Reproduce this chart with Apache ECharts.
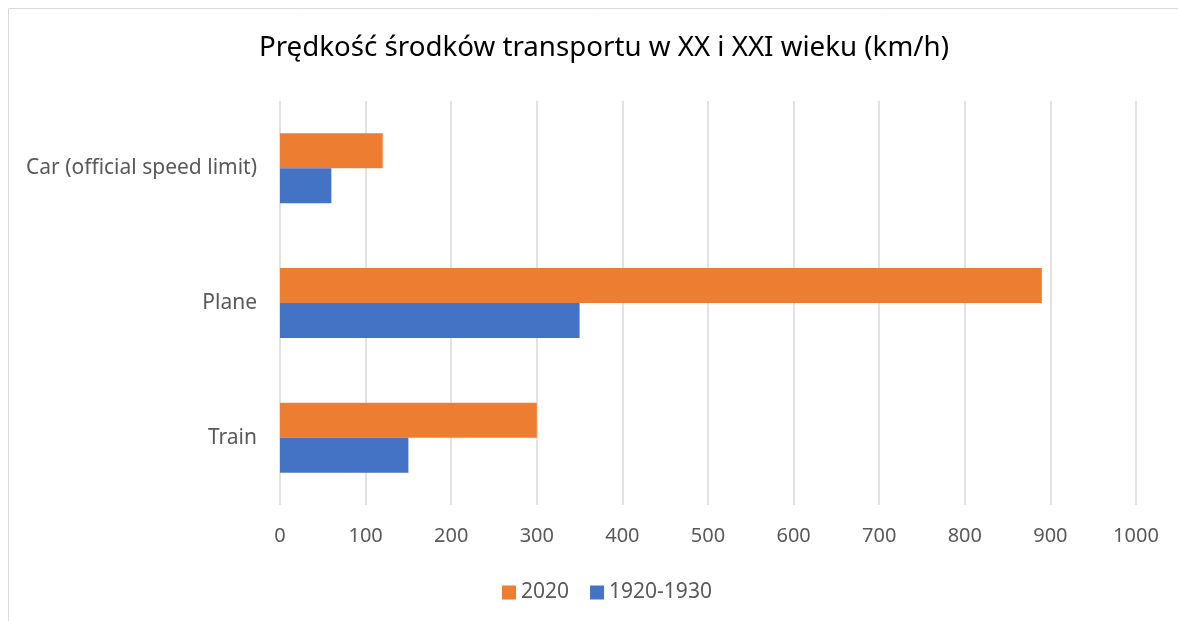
<!DOCTYPE html>
<html>
<head>
<meta charset="utf-8">
<script src="https://cdn.jsdelivr.net/npm/echarts@6/dist/echarts.min.js"></script>
<style>
  html, body { margin: 0; padding: 0; background: #fff; }
  #chart { width: 1178px; height: 621px; }
</style>
</head>
<body>
<div id="chart"></div>
<script>
const categories = ["Train", "Plane", "Car (official speed limit)"];
const speeds1920 = [150, 350, 60];
const speeds2020 = [300, 890, 120];
const seriesNames = ["2020", "1920-1930"];

const chart = echarts.init(document.getElementById("chart"));
const font = "Noto Sans";
chart.setOption({
  animation: false,
  title: {
    text: "Prędkość środków transportu w XX i XXI wieku (km/h)",
    left: 599,
    textAlign: "center",
    top: 29,
    textStyle: { fontFamily: font, fontSize: 27.7, fontWeight: "normal", color: "#000" }
  },
  graphic: [{
    type: "rect",
    shape: { x: 8.5, y: 8.5, width: 1200, height: 700 },
    style: { fill: "none", stroke: "#d9d9d9", lineWidth: 1 },
    silent: true
  }],
  legend: {
    data: seriesNames,
    left: 497,
    top: 577,
    itemWidth: 14,
    itemHeight: 14,
    itemGap: 21,
    icon: "rect",
    textStyle: { fontFamily: font, fontSize: 21, color: "#595959" }
  },
  grid: { left: 280, right: 42, top: 101, bottom: 116 },
  xAxis: {
    type: "value",
    min: 0,
    max: 1000,
    interval: 100,
    axisLine: { show: false },
    axisTick: { show: false },
    axisLabel: { margin: 21, fontFamily: font, fontSize: 20, color: "#595959", formatter: (v) => String(v) },
    splitLine: { lineStyle: { color: "#d9d9d9", width: 1.5 } }
  },
  yAxis: {
    type: "category",
    data: categories,
    axisLine: { show: false },
    axisTick: { show: false },
    axisLabel: { margin: 23, fontFamily: font, fontSize: 21, color: "#595959" }
  },
  series: [
    {
      name: "2020",
      type: "bar",
      data: speeds2020,
      barWidth: 35,
      barGap: "0%",
      itemStyle: { color: "#ED7D31" }
    },
    {
      name: "1920-1930",
      type: "bar",
      data: speeds1920,
      barWidth: 35,
      barGap: "0%",
      itemStyle: { color: "#4472C4" }
    }
  ]
});
</script>
</body>
</html>
